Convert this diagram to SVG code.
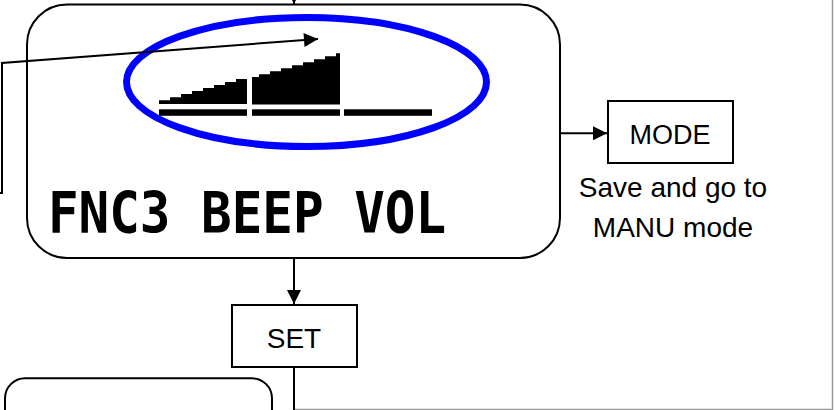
<svg xmlns="http://www.w3.org/2000/svg" width="834" height="410" viewBox="0 0 834 410">
<style>
.box{fill:#fff;stroke:#000;stroke-width:2}
.ln{fill:none;stroke:#000;stroke-width:2}
.lbl{font-family:"Liberation Sans",Arial,sans-serif;font-size:28px;fill:#000;text-anchor:middle}
.lcd{font-family:"DejaVu Sans Mono",monospace;font-weight:bold;font-size:57px;fill:#000}
</style>
<defs>
<marker id="ah" viewBox="0 0 10 10" refX="10" refY="5" markerUnits="userSpaceOnUse" markerWidth="15" markerHeight="14" orient="auto">
<path d="M0,0 L10,5 L0,10 z" fill="#000"/>
</marker>
</defs>
<rect x="0" y="0" width="834" height="410" fill="#fff"/>
<g id="frame">
<path d="M832.5 0 V409.5 H294" fill="none" stroke="#999" stroke-width="1.5"/>
</g>
<g id="display">
<rect class="box" x="27" y="4.5" width="533" height="253.5" rx="40" ry="40"/>
<polygon points="159,104 159,100.3 170,100.3 170,97.3 181,97.3 181,94 192,94 192,91 203,91 203,88 214,88 214,85 225,85 225,82 236,82 236,79 247,79 247,104" fill="#000"/>
<polygon points="252,104.5 252,77 259,77 259,74.3 270,74.3 270,71.3 281,71.3 281,68.3 292,68.3 292,65.3 303,65.3 303,62.3 314,62.3 314,59.3 325,59.3 325,56.3 336,56.3 336,53.3 340,53.3 340,104.5" fill="#000"/>
<rect x="159" y="109.3" width="88" height="6.5" fill="#000"/>
<rect x="252" y="109.3" width="88" height="6.5" fill="#000"/>
<rect x="344" y="109.3" width="88" height="6.5" fill="#000"/>
<ellipse cx="306.5" cy="82" rx="180" ry="64.5" fill="none" stroke="#0000ff" stroke-width="7"/>
<text class="lcd" x="48" y="233" textLength="398" lengthAdjust="spacingAndGlyphs">FNC3 BEEP VOL</text>
</g>
<g id="mode">
<rect class="box" x="608" y="101" width="125" height="62"/>
<text class="lbl" x="670" y="144.3" style="font-size:27px">MODE</text>
<text class="lbl" x="673" y="197">Save and go to</text>
<text class="lbl" x="673" y="236.7">MANU mode</text>
</g>
<g id="set">
<rect class="box" x="232" y="305" width="125" height="62"/>
<text class="lbl" x="294" y="348.3">SET</text>
</g>
<g id="next">
<rect class="box" x="5" y="378.3" width="267" height="70" rx="20" ry="20"/>
</g>
<g id="connectors">
<path class="ln" d="M294 -20 V4" marker-end="url(#ah)"/>
<path class="ln" d="M-5 193 H2 V63 L318 39" marker-end="url(#ah)"/>
<path class="ln" d="M560 133.3 H607" marker-end="url(#ah)"/>
<path class="ln" d="M294 258 V304" marker-end="url(#ah)"/>
<path class="ln" d="M294 367 V410"/>
</g>
</svg>
